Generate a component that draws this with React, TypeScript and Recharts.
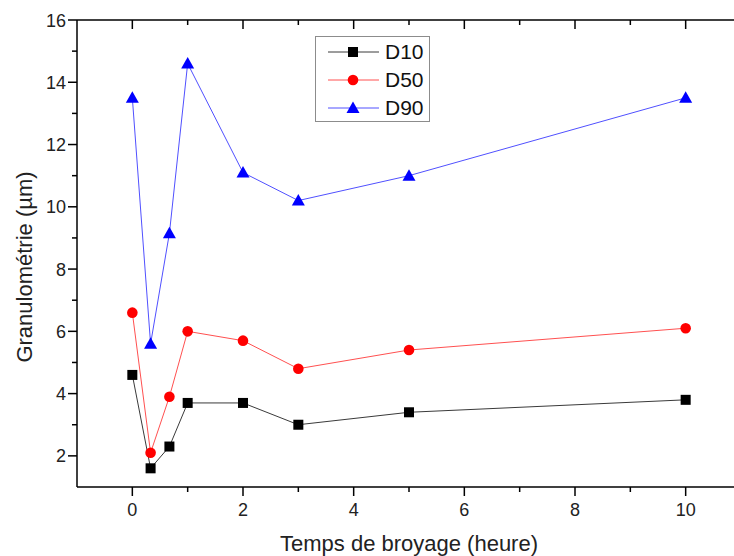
import { LineChart, Line, XAxis, YAxis, Legend, Label } from 'recharts';

const hours = [0, 0.33, 0.67, 1, 2, 3, 5, 10];
const d10 = [4.6, 1.6, 2.3, 3.7, 3.7, 3.0, 3.4, 3.8];
const d50 = [6.6, 2.1, 3.9, 6.0, 5.7, 4.8, 5.4, 6.1];
const d90 = [13.5, 5.6, 9.15, 14.6, 11.1, 10.2, 11.0, 13.5];

const xTicks = [0, 1, 2, 3, 4, 5, 6, 7, 8, 9, 10, 11];
const yTicks = [2, 3, 4, 5, 6, 7, 8, 9, 10, 11, 12, 13, 14, 15, 16];

const data = hours.map((h, i) => ({ h, D10: d10[i], D50: d50[i], D90: d90[i] }));

const FONT = 'Arial, "Liberation Sans", sans-serif';
const MAJOR = 9;
const MINOR = 5;

const isMajor = (v: number) => v % 2 === 0;

function BottomTick(props: any) {
	const { x, y, payload } = props;
	const v = payload.value;
	const len = isMajor(v) ? MAJOR : MINOR;
	return (
		<g>
			<line x1={x} x2={x} y1={y} y2={y + len} stroke="#000" strokeWidth={1.5} />
			{isMajor(v) && (
				<text x={x} y={y + 29} textAnchor="middle" fontSize={18} fontFamily={FONT} fill="#222">
					{v}
				</text>
			)}
		</g>
	);
}

function TopTick(props: any) {
	const { x, y, payload } = props;
	const len = isMajor(payload.value) ? MAJOR : MINOR;
	return <line x1={x} x2={x} y1={y} y2={y + len} stroke="#000" strokeWidth={1.5} />;
}

function LeftTick(props: any) {
	const { x, y, payload } = props;
	const v = payload.value;
	const len = isMajor(v) ? MAJOR : MINOR;
	return (
		<g>
			<line x1={x - len} x2={x} y1={y} y2={y} stroke="#000" strokeWidth={1.5} />
			{isMajor(v) && (
				<text x={x - 11} y={y + 6.5} textAnchor="end" fontSize={18} fontFamily={FONT} fill="#222">
					{v}
				</text>
			)}
		</g>
	);
}

// right axis sits just outside the window, only its inward ticks peek in
function RightTick(props: any) {
	const { x, y, payload } = props;
	const len = isMajor(payload.value) ? MAJOR : MINOR;
	return <line x1={x - len} x2={x} y1={y} y2={y} stroke="#000" strokeWidth={1.5} />;
}

function Marker({ kind, cx, cy, color }: { kind: string; cx: number; cy: number; color: string }) {
	if (kind === 'square') return <rect x={cx - 5} y={cy - 5} width={10} height={10} fill={color} />;
	if (kind === 'circle') return <circle cx={cx} cy={cy} r={5.3} fill={color} />;
	return <polygon points={`${cx},${cy - 6.5} ${cx - 6.5},${cy + 5} ${cx + 6.5},${cy + 5}`} fill={color} />;
}

const series = [
	{ key: 'D10', line: '#3a3a3a', mark: '#000000', kind: 'square' },
	{ key: 'D50', line: '#ff5050', mark: '#ff0000', kind: 'circle' },
	{ key: 'D90', line: '#5050ff', mark: '#0000ff', kind: 'triangle' },
];

function LegendBox() {
	return (
		<div
			style={{
				width: 115,
				height: 86,
				boxSizing: 'border-box',
				border: '1px solid #8c8c8c',
				background: '#fff',
				paddingTop: 1,
			}}
		>
			{series.map((s) => (
				<div key={s.key} style={{ position: 'relative', height: 28 }}>
					<svg width={70} height={28} style={{ position: 'absolute', left: 0, top: 0 }}>
						<line x1={12} x2={63} y1={14} y2={14} stroke={s.line} strokeWidth={1} />
						<Marker kind={s.kind} cx={37} cy={14} color={s.mark} />
					</svg>
					<span
						style={{
							position: 'absolute',
							left: 69,
							top: 1,
							fontFamily: FONT,
							fontSize: 21,
							lineHeight: '26px',
							color: '#111',
						}}
					>
						{s.key}
					</span>
				</div>
			))}
		</div>
	);
}

export default function App() {
	// fixed to the window so no scrollbars appear; the plot runs past the right edge, as in the reference
	return (
		<div style={{ position: 'fixed', left: 0, top: 0, width: 734, height: 556, overflow: 'hidden', background: '#fff' }}>
			<LineChart width={770} height={556} data={data} margin={{ top: 10, right: 0, left: 8, bottom: 0 }}>
				<XAxis
					xAxisId="b"
					dataKey="h"
					type="number"
					domain={[-1, 11]}
					ticks={xTicks}
					interval={0}
					height={69}
					tickSize={0}
					tickMargin={0}
					tick={<BottomTick />}
					axisLine={{ stroke: '#000', strokeWidth: 1.5 }}
				>
					<Label
						content={() => (
							<text x={409} y={551} textAnchor="middle" fontSize={22} fontFamily={FONT} fill="#222">
								Temps de broyage (heure)
							</text>
						)}
					/>
				</XAxis>
				<XAxis
					xAxisId="t"
					orientation="top"
					dataKey="h"
					type="number"
					domain={[-1, 11]}
					ticks={xTicks}
					interval={0}
					height={10}
					tickSize={0}
					tickMargin={0}
					tick={<TopTick />}
					axisLine={{ stroke: '#000', strokeWidth: 1.5 }}
				/>
				<YAxis
					yAxisId="l"
					type="number"
					domain={[1, 16]}
					ticks={yTicks}
					interval={0}
					width={69}
					tickSize={0}
					tickMargin={0}
					tick={<LeftTick />}
					axisLine={{ stroke: '#000', strokeWidth: 1.5 }}
				>
					<Label
						content={() => (
							<text
								transform="translate(32, 267) rotate(-90)"
								textAnchor="middle"
								fontSize={22}
								fontFamily={FONT}
								fill="#222"
							>
								Granulométrie (µm)
							</text>
						)}
					/>
				</YAxis>
				<YAxis
					yAxisId="r"
					orientation="right"
					type="number"
					domain={[1, 16]}
					ticks={yTicks}
					interval={0}
					width={29}
					tickSize={0}
					tickMargin={0}
					tick={<RightTick />}
					axisLine={{ stroke: '#000', strokeWidth: 1.5 }}
				/>
				<Legend
					layout="vertical"
					align="center"
					verticalAlign="middle"
					wrapperStyle={{ left: 315, top: 36, width: 115 }}
					content={() => <LegendBox />}
				/>
				{series.map((s) => (
					<Line
						key={s.key}
						xAxisId="b"
						yAxisId="l"
						dataKey={s.key}
						stroke={s.line}
						strokeWidth={1}
						isAnimationActive={false}
						dot={(p: any) => <Marker key={`${s.key}-${p.index}`} kind={s.kind} cx={p.cx} cy={p.cy} color={s.mark} />}
						activeDot={false}
					/>
				))}
			</LineChart>
		</div>
	);
}
